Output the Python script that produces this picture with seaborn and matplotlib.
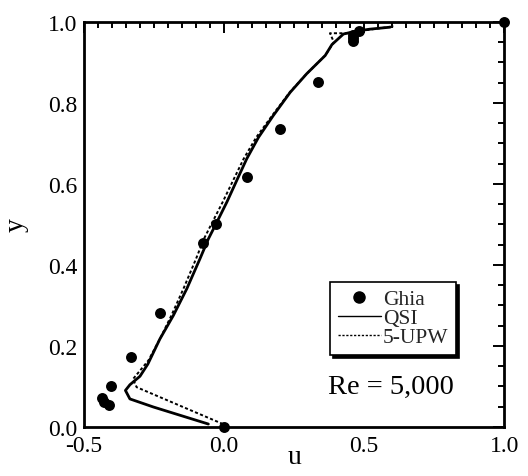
import numpy as np
import pandas as pd
import matplotlib
matplotlib.use("Agg")
import matplotlib.pyplot as plt
from matplotlib.ticker import MultipleLocator, FormatStrFormatter
from matplotlib.lines import Line2D
import seaborn as sns

# Ghia et al. benchmark, u along the vertical centerline, Re = 5000
ghia_y = [1.0000, 0.9766, 0.9688, 0.9609, 0.9531, 0.8516, 0.7344, 0.6172, 0.5000,
          0.4531, 0.2813, 0.1719, 0.1016, 0.0703, 0.0625, 0.0547, 0.0000]
ghia_u = [1.00000, 0.48223, 0.46120, 0.45992, 0.46036, 0.33556, 0.20087, 0.08183,
          -0.03039, -0.07404, -0.22855, -0.33050, -0.40435, -0.43643, -0.42901,
          -0.41165, 0.00000]

# QSI scheme profile
qsi_u = [-0.056, -0.252, -0.336, -0.352, -0.336, -0.300, -0.272, -0.229, -0.181,
         -0.133, -0.086, -0.056, -0.026, 0.010, 0.045, 0.081, 0.123, 0.176, 0.236,
         0.295, 0.361, 0.385, 0.426, 0.470, 0.520, 0.593]
qsi_y = [0.007, 0.049, 0.069, 0.090, 0.104, 0.125, 0.155, 0.217, 0.275,
         0.341, 0.415, 0.464, 0.505, 0.555, 0.608, 0.662, 0.715, 0.769, 0.826,
         0.872, 0.917, 0.944, 0.970, 0.977, 0.982, 0.987]

# 5th-order upwind profile
upw_u = [-0.004, -0.312, -0.325, -0.270, -0.229, -0.188, -0.145, -0.100, -0.072,
         -0.042, -0.005, 0.032, 0.070, 0.115, 0.172, 0.234, 0.295, 0.361, 0.392,
         0.378, 0.440, 0.500, 0.605]
upw_y = [0.007, 0.098, 0.118, 0.164, 0.217, 0.275, 0.341, 0.415, 0.464,
         0.505, 0.555, 0.608, 0.662, 0.715, 0.769, 0.826, 0.872, 0.917, 0.950,
         0.972, 0.972, 0.979, 0.989]

sns.set_theme(style="white")
plt.rcParams["font.family"] = ["Liberation Serif", "DejaVu Serif"]

fig = plt.figure(figsize=(5.28, 4.77), dpi=100)
ax = fig.add_axes([0.159, 0.103, 0.796, 0.849])

qsi = pd.DataFrame({"u": qsi_u, "y": qsi_y})
upw = pd.DataFrame({"u": upw_u, "y": upw_y})
ghia = pd.DataFrame({"u": ghia_u, "y": ghia_y})

sns.lineplot(data=qsi, x="u", y="y", sort=False, estimator=None, ax=ax,
             color="black", linewidth=2.0, solid_joinstyle="round")
sns.lineplot(data=upw, x="u", y="y", sort=False, estimator=None, ax=ax,
             color="black", linewidth=1.4, linestyle=(0, (1.6, 1.2)))
sns.scatterplot(data=ghia, x="u", y="y", ax=ax, color="black", s=62,
                edgecolor="black", linewidth=0, clip_on=False, zorder=5)

ax.set_xlim(-0.5, 1.0)
ax.set_ylim(0.0, 1.0)
ax.xaxis.set_major_locator(MultipleLocator(0.5))
ax.xaxis.set_minor_locator(MultipleLocator(0.05))
ax.yaxis.set_major_locator(MultipleLocator(0.2))
ax.yaxis.set_minor_locator(MultipleLocator(0.05))
ax.xaxis.set_major_formatter(FormatStrFormatter("%.1f"))
ax.yaxis.set_major_formatter(FormatStrFormatter("%.1f"))
ax.tick_params(which="both", direction="in", top=True, right=True,
               color="black", width=1.4, labelsize=17, labelcolor="black")
ax.tick_params(which="major", length=8)
ax.tick_params(which="minor", length=4)
ax.tick_params(axis="x", which="major", pad=6)
ax.tick_params(axis="y", which="major", pad=5)
for s in ax.spines.values():
    s.set_color("black")
    s.set_linewidth(2.0)

ax.set_xlabel("u", fontsize=20, color="black", labelpad=-9)
ax.set_ylabel("y", fontsize=20, color="black", labelpad=14)

handles = [
    Line2D([], [], marker="o", linestyle="none", color="black", markersize=8),
    Line2D([], [], color="black", linewidth=1.0),
    Line2D([], [], color="black", linewidth=1.0, linestyle=(0, (1.6, 1.2))),
]
leg = ax.legend(handles, ["Ghia", "QSI", "5-UPW"], loc="upper left",
                bbox_to_anchor=(0.586, 0.358), fontsize=15.5, frameon=True,
                fancybox=False, edgecolor="black", framealpha=1,
                shadow={"color": "black", "alpha": 1.0},
                handlelength=2.0, handletextpad=0.1, labelspacing=-0.05,
                borderpad=0.35, borderaxespad=0)
leg.get_frame().set_linewidth(1.2)

ax.text(0.73, 0.099, "Re = 5,000", transform=ax.transAxes, fontsize=20.5,
        ha="center", va="center", color="black")

fig.savefig("out.png", dpi=100, facecolor="white")
